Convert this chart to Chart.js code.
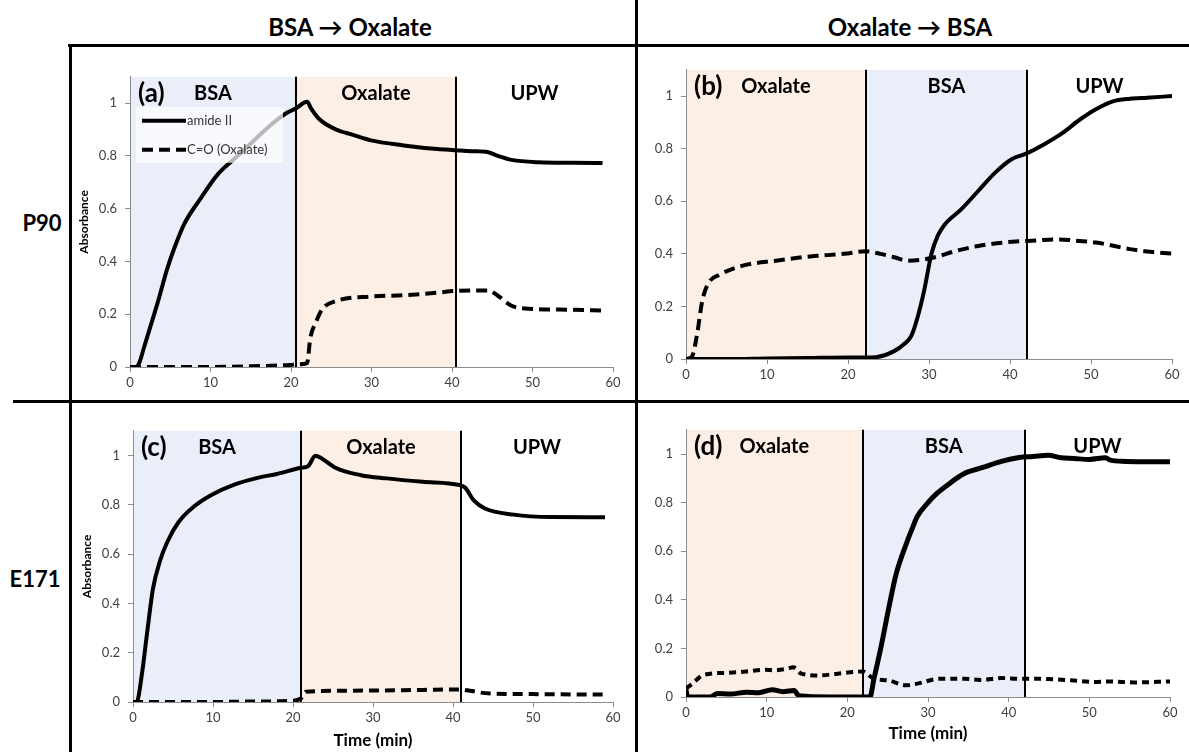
<!DOCTYPE html>
<html><head><meta charset="utf-8">
<script src="https://cdn.jsdelivr.net/npm/chart.js@4.4.1/dist/chart.umd.min.js"></script>
<style>
html,body{margin:0;padding:0;background:#fff;}
body{width:1189px;height:752px;position:relative;overflow:hidden;font-family:Lato,'Open Sans',sans-serif;}
.ln{position:absolute;background:#000;}
.hdr{position:absolute;font-weight:bold;transform:translate(-50%,-50%);white-space:nowrap;color:#000;}
canvas{position:absolute;}
</style></head><body>
<div class="ln" style="left:635px;top:0;width:3px;height:752px"></div>
<div class="ln" style="left:68px;top:44px;width:1121px;height:3px"></div>
<div class="ln" style="left:13px;top:400px;width:1176px;height:3px"></div>
<div class="ln" style="left:69px;top:44px;width:3px;height:708px"></div>
<div class="hdr" style="left:350px;top:26px;font-size:24px">BSA → Oxalate</div>
<div class="hdr" style="left:910px;top:26px;font-size:24px">Oxalate → BSA</div>
<div class="hdr" style="left:42px;top:222px;font-size:22px">P90</div>
<div class="hdr" style="left:35px;top:578px;font-size:22px">E171</div>
<script>
// ---- shared ----
const xTicks = [0, 10, 20, 30, 40, 50, 60];
const yTicks = [0, 0.2, 0.4, 0.6, 0.8, 1];
const seriesNames = ['amide II', 'C=O (Oxalate)'];
const xTitle = 'Time (min)';
const yTitle = 'Absorbance';

// ---- panel (a) P90, BSA -> Oxalate ----
const stagesA = ['BSA', 'Oxalate', 'UPW'];
const boundsA = [0, 20.6, 40.5, 60];
const tA_amide = [0, 0.8, 1.2, 1.7, 2.5, 3.4, 4.6, 5.5, 6.7, 8.8, 10.9, 13.0, 15.1, 17.2, 19.3, 20.6, 22.0, 22.5, 23.5, 25.6, 27.7, 29.8, 34.0, 38.2, 40.3, 42.4, 44.5, 45.7, 47.4, 50.8, 55.0, 58.7];
const vA_amide = [0, 0, 0.02, 0.07, 0.15, 0.24, 0.37, 0.45, 0.54, 0.64, 0.73, 0.79, 0.85, 0.91, 0.96, 0.98, 1.005, 0.98, 0.94, 0.90, 0.88, 0.86, 0.84, 0.826, 0.822, 0.818, 0.814, 0.80, 0.785, 0.776, 0.774, 0.773];
const tA_co = [0, 5, 10, 15, 20, 20.6, 22.0, 22.4, 23.1, 23.9, 25.6, 29.8, 34.0, 38.2, 40.3, 44.5, 45.7, 47.4, 49.0, 55.0, 58.7];
const vA_co = [0, 0, 0, 0.003, 0.008, 0.01, 0.015, 0.11, 0.17, 0.22, 0.25, 0.267, 0.272, 0.282, 0.288, 0.29, 0.27, 0.232, 0.222, 0.217, 0.214];

// ---- panel (b) P90, Oxalate -> BSA ----
const stagesB = ['Oxalate', 'BSA', 'UPW'];
const boundsB = [0, 22.2, 42.1, 60];
const tB_amide = [0, 5, 10, 15, 20, 22.2, 23.6, 25.7, 26.9, 27.8, 28.6, 29.4, 30.3, 31.1, 31.9, 34.0, 36.1, 38.2, 40.2, 41.9, 44.4, 46.5, 48.6, 50.6, 52.7, 54.8, 56.9, 60];
const vB_amide = [0, 0, 0.002, 0.004, 0.006, 0.006, 0.008, 0.03, 0.056, 0.087, 0.16, 0.26, 0.40, 0.47, 0.51, 0.57, 0.64, 0.71, 0.76, 0.78, 0.82, 0.86, 0.91, 0.95, 0.98, 0.99, 0.994, 1.0];
const tB_co = [0, 0.75, 1.4, 2.0, 2.8, 4.1, 7.0, 11.1, 15.3, 19.5, 22.2, 24.0, 25.7, 27.4, 29.0, 30.7, 33.2, 36.1, 40.3, 42.3, 45.7, 48.6, 50.6, 54.8, 56.9, 60];
const vB_co = [0, 0.01, 0.1, 0.22, 0.29, 0.32, 0.355, 0.374, 0.39, 0.40, 0.41, 0.40, 0.387, 0.374, 0.377, 0.387, 0.41, 0.43, 0.446, 0.449, 0.455, 0.449, 0.443, 0.418, 0.409, 0.401];

// ---- panel (c) E171, BSA -> Oxalate ----
const stagesC = ['BSA', 'Oxalate', 'UPW'];
const boundsC = [0, 21.0, 41.0, 60];
const tC_amide = [0, 0.45, 1.1, 1.8, 2.5, 3.4, 4.3, 5.7, 7.5, 9.8, 12.5, 15.7, 18.0, 21.0, 21.9, 22.8, 23.5, 25.3, 28.5, 31.7, 36.2, 40.8, 41.5, 42.6, 44.0, 47.6, 52.2, 59.0];
const vC_amide = [0, 0, 0.11, 0.29, 0.46, 0.575, 0.65, 0.73, 0.79, 0.84, 0.88, 0.91, 0.925, 0.95, 0.957, 0.999, 0.99, 0.95, 0.92, 0.907, 0.893, 0.88, 0.87, 0.818, 0.785, 0.76, 0.75, 0.749];
const tC_co = [0, 5, 10, 15, 20, 21.0, 21.6, 27.1, 36.2, 40.8, 42.1, 44.0, 49.9, 59.0];
const vC_co = [0, 0, 0, 0.002, 0.005, 0.015, 0.042, 0.046, 0.049, 0.051, 0.046, 0.036, 0.032, 0.03];

// ---- panel (d) E171, Oxalate -> BSA ----
const stagesD = ['Oxalate', 'BSA', 'UPW'];
const boundsD = [0, 21.9, 42.0, 60];
const tD_amide = [0, 0.2, 0.4, 3.0, 3.9, 5.5, 7.5, 9.0, 10.7, 12.0, 13.4, 14.0, 18.0, 22.8, 23.3, 24.2, 25.1, 26.0, 27.3, 28.0, 28.7, 30.0, 31.0, 32.3, 34.5, 36.8, 39.1, 41.3, 43.0, 44.9, 46.5, 48.1, 50.0, 52.0, 52.6, 54.5, 57.1, 60];
const vD_amide = [0.03, 0, 0, 0, 0.014, 0.012, 0.02, 0.018, 0.03, 0.022, 0.027, 0.005, 0, 0, 0.075, 0.21, 0.36, 0.5, 0.63, 0.69, 0.745, 0.80, 0.835, 0.87, 0.92, 0.945, 0.97, 0.986, 0.99, 0.995, 0.985, 0.982, 0.978, 0.985, 0.975, 0.97, 0.968, 0.968];
const tD_co = [0, 0.8, 2.1, 5.3, 7.5, 9.8, 11.0, 12.5, 13.3, 14.3, 16.5, 18.8, 21.9, 23.3, 25.1, 27.3, 28.7, 31.4, 34.5, 36.5, 39.1, 41.5, 43.6, 46.0, 48.1, 50.5, 52.6, 55.5, 60];
const vD_co = [0.035, 0.055, 0.09, 0.1, 0.105, 0.112, 0.11, 0.116, 0.122, 0.096, 0.089, 0.096, 0.105, 0.075, 0.068, 0.048, 0.055, 0.075, 0.075, 0.07, 0.078, 0.075, 0.075, 0.072, 0.068, 0.062, 0.064, 0.06, 0.064];

// ---- styling / layout ----
const stageFill = {'BSA': '#e9eef8', 'Oxalate': '#fcefe6', 'UPW': null};
const FONT = "Lato, 'Open Sans', sans-serif";

const zip = (t, v) => t.map((x, i) => ({x: x, y: v[i]}));

const stagePlugin = {
  id: 'stages',
  beforeDraw(chart, args, o) {
    const {ctx, chartArea: a, scales: {x}} = chart;
    ctx.save();
    for (let i = 0; i < o.stages.length; i++) {
      const c = stageFill[o.stages[i]];
      if (!c) continue;
      const x0 = x.getPixelForValue(o.bounds[i]), x1 = x.getPixelForValue(o.bounds[i + 1]);
      ctx.fillStyle = c;
      ctx.fillRect(x0, a.top, x1 - x0, a.bottom - a.top);
    }
    ctx.restore();
  },
  beforeDatasetsDraw(chart, args, o) {
    const {ctx, chartArea: a, scales: {x}} = chart;
    ctx.save();
    ctx.strokeStyle = '#000';
    ctx.lineWidth = 2;
    for (let i = 1; i < o.bounds.length - 1; i++) {
      const px = Math.round(x.getPixelForValue(o.bounds[i]));
      ctx.beginPath(); ctx.moveTo(px, a.top); ctx.lineTo(px, a.bottom); ctx.stroke();
    }
    ctx.fillStyle = '#000';
    ctx.textBaseline = 'middle';
    ctx.textAlign = 'center';
    ctx.font = 'bold 20px ' + FONT;
    for (let i = 0; i < o.stages.length; i++) {
      const cx = (x.getPixelForValue(o.bounds[i]) + x.getPixelForValue(o.bounds[i + 1])) / 2;
      ctx.fillText(o.stages[i], cx, a.top + 17);
    }
    ctx.textAlign = 'left';
    ctx.font = 'bold 26px ' + FONT;
    ctx.fillText(o.tag, a.left + 8, a.top + 17);
    ctx.restore();
  },
  afterDatasetsDraw(chart, args, o) {
    if (!o.legend) return;
    const {ctx, chartArea: a} = chart;
    const L = a.left + 6, T = a.top + 30;
    ctx.save();
    ctx.fillStyle = 'rgba(255,255,255,0.72)';
    ctx.fillRect(L, T, 147, 56);
    chart.data.datasets.forEach((ds, i) => {
      const y = T + 14 + i * 29;
      ctx.strokeStyle = '#000';
      ctx.lineWidth = 4;
      ctx.setLineDash(ds.borderDash || []);
      ctx.beginPath(); ctx.moveTo(L + 6, y); ctx.lineTo(L + 50, y); ctx.stroke();
      ctx.setLineDash([]);
      ctx.fillStyle = '#333';
      ctx.font = '13px ' + FONT;
      ctx.textBaseline = 'middle';
      ctx.textAlign = 'left';
      ctx.fillText(ds.label, L + 51, y);
    });
    ctx.restore();
  }
};

function makePanel(p) {
  const padTop = 10, padRight = 17, yW = 60;
  const cv = document.createElement('canvas');
  const W = (p.R - p.L) + yW + padRight;
  const H = (p.B - p.T) + padTop + p.xH;
  cv.width = W; cv.height = H;
  cv.style.left = (p.L - yW) + 'px';
  cv.style.top = (p.T - padTop) + 'px';
  cv.style.width = W + 'px'; cv.style.height = H + 'px';
  document.body.appendChild(cv);
  new Chart(cv, {
    type: 'line',
    data: {datasets: [
      {label: seriesNames[0], data: zip(p.t1, p.v1), borderColor: '#000', borderWidth: p.lw1, pointRadius: 0, cubicInterpolationMode: 'monotone', fill: false},
      {label: seriesNames[1], data: zip(p.t2, p.v2), borderColor: '#000', borderWidth: p.lw2, borderDash: p.dash, pointRadius: 0, cubicInterpolationMode: 'monotone', fill: false}
    ]},
    options: {
      responsive: false, animation: false, devicePixelRatio: 1,
      layout: {padding: {top: padTop, right: padRight, left: 0, bottom: 0}},
      plugins: {legend: {display: false}, tooltip: {enabled: false},
        stages: {stages: p.stages, bounds: p.bounds, tag: p.tag, legend: p.legend}},
      scales: {
        x: {type: 'linear', min: 0, max: 60,
          afterBuildTicks: s => { s.ticks = xTicks.map(v => ({value: v})); },
          afterFit: s => { s.height = p.xH; },
          grid: {drawOnChartArea: false, tickLength: 5, color: '#8c8c8c'},
          border: {color: '#8c8c8c', width: 1},
          ticks: {font: {family: FONT, size: 13}, color: '#404040', padding: 3, maxRotation: 0},
          title: {display: !!p.xTitle, text: xTitle, color: '#000', font: {family: FONT, size: 17, weight: 'bold'}, padding: {top: 0, bottom: p.xTitlePad || 0}}
        },
        y: {min: 0, max: 1.1,
          afterBuildTicks: s => { s.ticks = yTicks.map(v => ({value: v})); },
          afterFit: s => { s.width = yW; },
          grid: {drawOnChartArea: false, tickLength: 5, color: '#8c8c8c'},
          border: {color: '#8c8c8c', width: 1},
          ticks: {font: {family: FONT, size: 13}, color: '#404040', padding: 8,
            callback: v => String(Math.round(v * 10) / 10)},
          title: {display: !!p.yTitle, text: yTitle, color: '#000', font: {family: FONT, size: 12, weight: 'bold'}, padding: {top: 7, bottom: 0}}
        }
      }
    },
    plugins: [stagePlugin]
  });
}

makePanel({L: 130, R: 613, T: 71, B: 367, xH: 30, tag: '(a)', stages: stagesA, bounds: boundsA,
  t1: tA_amide, v1: vA_amide, t2: tA_co, v2: vA_co, lw1: 4, lw2: 4, dash: [11, 6], legend: true, yTitle: true});
makePanel({L: 686, R: 1172, T: 64, B: 359, xH: 30, tag: '(b)', stages: stagesB, bounds: boundsB,
  t1: tB_amide, v1: vB_amide, t2: tB_co, v2: vB_co, lw1: 4, lw2: 4, dash: [11, 6]});
makePanel({L: 133, R: 613, T: 425, B: 702, xH: 50, tag: '(c)', stages: stagesC, bounds: boundsC,
  t1: tC_amide, v1: vC_amide, t2: tC_co, v2: vC_co, lw1: 4, lw2: 4, dash: [10, 6], yTitle: true, xTitle: true, xTitlePad: 1});
makePanel({L: 686, R: 1170, T: 424, B: 697, xH: 50, tag: '(d)', stages: stagesD, bounds: boundsD,
  t1: tD_amide, v1: vD_amide, t2: tD_co, v2: vD_co, lw1: 5, lw2: 4, dash: [7, 5], xTitle: true, xTitlePad: 3});
</script>
</body></html>
